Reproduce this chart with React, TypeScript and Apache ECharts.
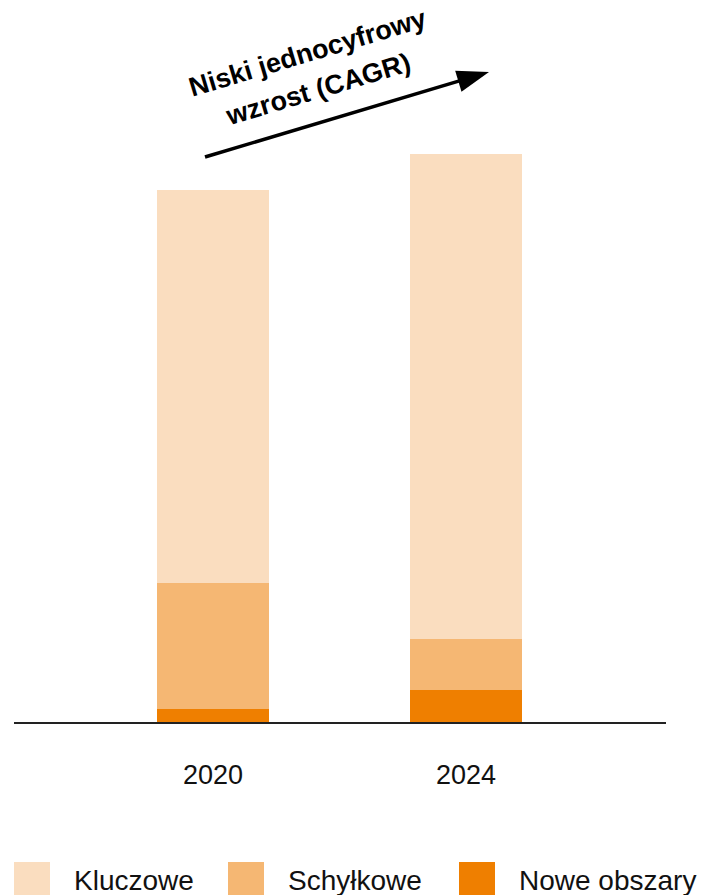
import React, { useEffect, useRef } from "react";
import * as echarts from "echarts";

const categories = ["2020", "2024"];
const seriesNames = ["Kluczowe", "Schyłkowe", "Nowe obszary"];
const kluczowe = [39.3, 48.5];
const schylkowe = [12.6, 5.1];
const noweObszary = [1.4, 3.3];
const colors = ["#FADDBF", "#F5B773", "#EF7F00"];
const annotation = "Niski jednocyfrowy\nwzrost (CAGR)";

const FONT = "'Liberation Sans', Arial, Helvetica, sans-serif";

export default function App() {
  const ref = useRef<HTMLDivElement>(null);
  useEffect(() => {
    document.body.style.margin = "0";
    if (!ref.current) return;
    const chart = echarts.init(ref.current, undefined, { renderer: "svg" });
    const angle = (16.7 * Math.PI) / 180;
    const tip = [489, 72];
    const start = [205, 157];
    const dx = tip[0] - start[0];
    const dy = tip[1] - start[1];
    const len = Math.sqrt(dx * dx + dy * dy);
    const ux = dx / len, uy = dy / len;
    const nx = -uy, ny = ux;
    const headLen = 32, headHalf = 11;
    const bx = tip[0] - headLen * ux, by = tip[1] - headLen * uy;

    const legendItem = (name: string, left: number) => ({
      data: [name],
      left,
      top: 862,
      padding: 0,
      itemWidth: 36,
      itemHeight: 36,
      icon: "rect",
      selectedMode: false,
      textStyle: {
        fontFamily: FONT,
        fontSize: 28,
        color: "#111",
        padding: [0, 0, 0, 19],
      },
    });

    chart.setOption({
      animation: false,
      backgroundColor: "#fff",
      grid: { left: 86.5, right: 110.5, top: 123, bottom: 172, containLabel: false },
      legend: [
        legendItem(seriesNames[0], 14),
        legendItem(seriesNames[1], 228),
        legendItem(seriesNames[2], 459),
      ],
      xAxis: {
        type: "category",
        data: categories,
        axisLine: { show: false },
        axisTick: { show: false },
        axisLabel: {
          fontFamily: FONT,
          fontSize: 27,
          color: "#111",
          margin: 38,
        },
      },
      yAxis: {
        type: "value",
        min: 0,
        max: 60,
        show: false,
        splitLine: { show: false },
      },
      series: [
        {
          name: seriesNames[2],
          type: "bar",
          stack: "total",
          barWidth: 112,
          data: noweObszary,
          itemStyle: { color: colors[2] },
        },
        {
          name: seriesNames[1],
          type: "bar",
          stack: "total",
          barWidth: 112,
          data: schylkowe,
          itemStyle: { color: colors[1] },
        },
        {
          name: seriesNames[0],
          type: "bar",
          stack: "total",
          barWidth: 112,
          data: kluczowe,
          itemStyle: { color: colors[0] },
        },
      ],
      graphic: [
        {
          type: "line",
          shape: { x1: 14, y1: 723, x2: 666, y2: 723 },
          style: { stroke: "#222", lineWidth: 2 },
          z: 10,
        },
        {
          type: "line",
          shape: { x1: start[0], y1: start[1], x2: bx + 2 * ux, y2: by + 2 * uy },
          style: { stroke: "#000", lineWidth: 3.5 },
        },
        {
          type: "polygon",
          shape: {
            points: [
              [tip[0], tip[1]],
              [bx + headHalf * nx, by + headHalf * ny],
              [bx - headHalf * nx, by - headHalf * ny],
            ],
          },
          style: { fill: "#000" },
        },
        {
          type: "text",
          x: 313,
          y: 71,
          rotation: angle,
          style: {
            text: annotation,
            fontFamily: FONT,
            fontWeight: "bold",
            fontSize: 27,
            lineHeight: 38,
            fill: "#000",
            align: "center",
            verticalAlign: "middle",
          },
        },
      ],
    });
    return () => chart.dispose();
  }, []);
  return <div ref={ref} style={{ width: 703, height: 895 }} />;
}
